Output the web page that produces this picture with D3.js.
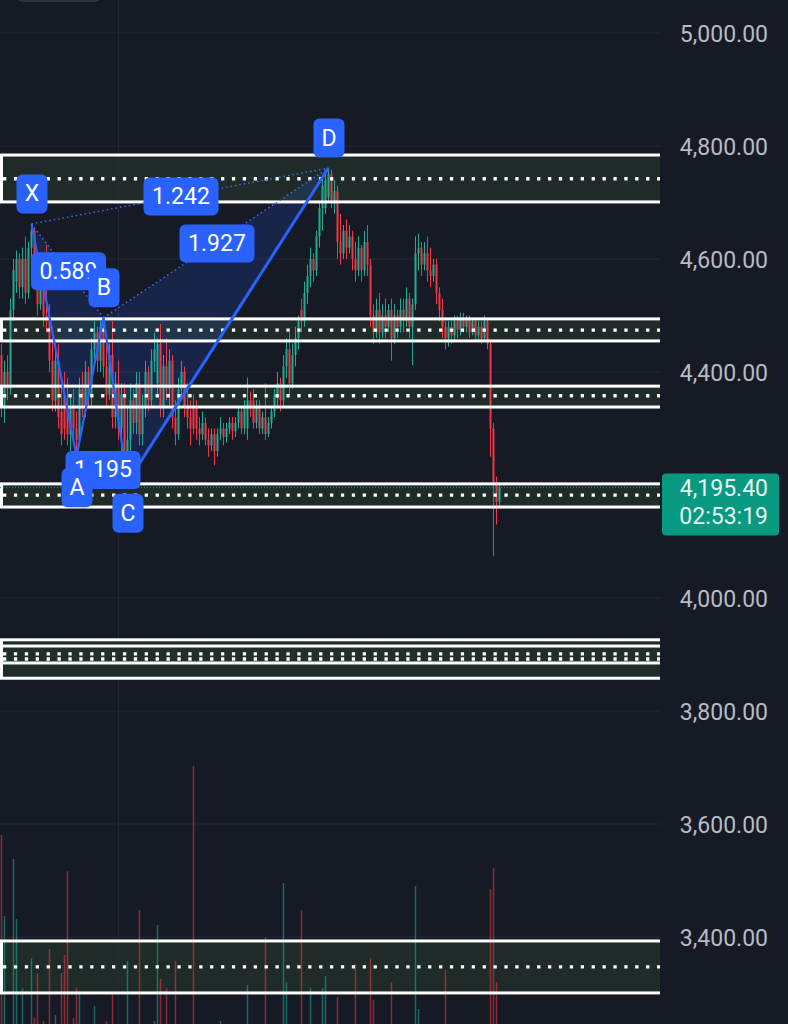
<!DOCTYPE html>
<html><head><meta charset="utf-8">
<script src="https://cdn.jsdelivr.net/npm/d3@7"></script>
<style>html,body{margin:0;padding:0;background:#161a25;overflow:hidden}svg{display:block}</style>
</head><body><svg id="c" width="788" height="1024"></svg>
<script>
// ---------- DATA ----------
const gridTicks = [5000, 4800, 4600, 4400, 4200, 4000, 3800, 3600, 3400];
const priceTicks = [5000, 4800, 4600, 4400, 4000, 3800, 3600, 3400];
const timeGridIndex = [39];
// [open, high, low, close]
const candles = [
[4430,4450,4320,4340],[4340,4420,4310,4400],[4400,4430,4350,4370],[4370,4530,4360,4510],[4510,4600,4490,4580],
[4560,4615,4540,4600],[4600,4610,4530,4550],[4550,4620,4530,4600],[4600,4640,4520,4540],[4540,4630,4530,4620],
[4620,4662,4600,4650],[4650,4655,4560,4580],[4580,4600,4500,4520],[4520,4600,4510,4580],[4580,4590,4480,4500],
[4500,4625,4470,4490],[4490,4520,4400,4420],[4420,4480,4330,4350],[4350,4440,4330,4420],[4420,4450,4300,4320],
[4330,4380,4270,4290],[4360,4400,4280,4300],[4340,4390,4270,4290],[4290,4360,4260,4340],[4340,4370,4280,4300],
[4300,4330,4250,4280],[4280,4390,4270,4370],[4370,4400,4320,4340],[4340,4420,4320,4400],[4400,4410,4340,4360],
[4360,4460,4340,4440],[4440,4490,4420,4470],[4470,4480,4400,4420],[4420,4490,4400,4480],[4480,4496,4390,4410],
[4410,4470,4340,4360],[4360,4450,4350,4430],[4430,4490,4300,4320],[4320,4400,4300,4380],[4380,4420,4280,4300],
[4300,4380,4260,4360],[4360,4380,4240,4260],[4260,4340,4205,4280],[4280,4380,4260,4350],[4350,4370,4290,4310],
[4310,4400,4290,4380],[4380,4400,4270,4290],[4290,4360,4270,4340],[4340,4420,4320,4400],[4400,4410,4330,4350],
[4350,4440,4340,4420],[4420,4470,4400,4440],[4380,4460,4360,4450],[4450,4485,4320,4340],[4340,4430,4320,4410],
[4410,4460,4350,4370],[4370,4440,4340,4420],[4420,4430,4300,4320],[4320,4350,4270,4290],[4290,4390,4280,4370],
[4370,4420,4350,4400],[4400,4410,4320,4340],[4340,4380,4300,4320],[4320,4350,4270,4300],[4340,4360,4290,4300],
[4340,4350,4280,4300],[4300,4320,4270,4290],[4290,4330,4280,4310],[4310,4320,4270,4280],[4280,4300,4250,4270],
[4270,4300,4260,4290],[4290,4300,4235,4260],[4260,4300,4250,4290],[4290,4320,4280,4300],[4300,4310,4270,4285],
[4285,4310,4275,4300],[4300,4320,4290,4310],[4310,4320,4280,4295],[4295,4320,4285,4310],[4310,4340,4300,4330],
[4330,4340,4290,4300],[4300,4350,4290,4340],[4300,4390,4280,4350],[4350,4365,4320,4335],[4350,4370,4300,4310],
[4310,4350,4300,4340],[4340,4350,4290,4300],[4300,4330,4290,4320],[4320,4380,4280,4290],[4290,4320,4285,4310],
[4310,4340,4300,4330],[4330,4370,4320,4360],[4360,4400,4340,4380],[4380,4390,4330,4350],[4350,4430,4340,4410],
[4410,4460,4390,4440],[4440,4470,4360,4380],[4380,4450,4370,4430],[4430,4480,4410,4460],[4460,4500,4440,4490],
[4510,4530,4470,4490],[4490,4560,4480,4540],[4540,4590,4520,4570],[4570,4620,4550,4600],[4600,4610,4560,4580],
[4580,4650,4570,4640],[4640,4700,4620,4690],[4690,4740,4650,4730],[4690,4755,4680,4740],[4710,4761,4700,4750],
[4750,4758,4690,4700],[4700,4740,4680,4720],[4720,4730,4600,4630],[4630,4680,4590,4610],[4610,4660,4600,4650],
[4650,4670,4600,4620],[4620,4660,4610,4640],[4640,4650,4580,4600],[4600,4630,4560,4580],[4580,4640,4570,4620],
[4620,4625,4560,4580],[4580,4650,4570,4630],[4630,4660,4570,4590],[4590,4600,4480,4500],[4500,4520,4450,4470],
[4470,4530,4460,4510],[4510,4540,4450,4470],[4470,4520,4460,4500],[4500,4530,4460,4480],[4480,4520,4470,4510],
[4510,4530,4420,4460],[4460,4520,4450,4500],[4500,4510,4460,4480],[4480,4530,4470,4510],[4510,4530,4470,4490],
[4490,4550,4480,4530],[4530,4540,4460,4480],[4480,4530,4412,4520],[4520,4640,4510,4610],[4610,4645,4580,4620],
[4620,4630,4570,4590],[4590,4630,4580,4610],[4610,4640,4560,4580],[4580,4620,4550,4570],[4570,4600,4560,4590],
[4590,4600,4520,4540],[4540,4550,4490,4510],[4510,4530,4460,4480],[4480,4490,4440,4460],[4460,4490,4445,4480],
[4480,4490,4450,4465],[4465,4500,4455,4490],[4490,4500,4460,4475],[4475,4505,4465,4495],[4495,4505,4470,4480],
[4480,4500,4470,4495],[4495,4500,4460,4470],[4470,4495,4465,4490],[4490,4495,4455,4465],[4465,4490,4455,4480],
[4480,4490,4450,4460],[4460,4500,4455,4490],[4490,4495,4440,4450],[4450,4455,4250,4300],[4300,4310,4074,4205],
[4205,4215,4130,4170],[4170,4200,4160,4195.4]
];
const volumes = [
75,48,10,9,67,47,12,24,11,8,34,14,29,10,13,9,37,12,15,9,29,35,63,11,14,24,22,10,12,9,
8,18,11,10,9,13,8,22,10,12,9,11,33,10,8,12,50,9,11,10,8,13,45,27,9,24,10,8,33,11,
9,12,10,8,98,11,9,10,12,8,10,9,11,13,8,10,12,9,11,8,10,9,25,8,10,11,9,12,41,10,
8,9,11,10,59,26,9,8,12,10,50,9,11,24,10,8,9,24,28,10,11,9,21,10,8,12,9,10,32,11,
9,10,8,34,20,9,11,10,8,12,26,9,10,8,11,9,10,12,58,17,9,8,11,10,9,12,8,10,30,9,
11,10,8,12,9,10,11,8,9,10,12,9,10,57,64,26,8
];
const zoneTop    = [4784, 4494, 4375, 4202, 3926, 3915, 3393];
const zoneBottom = [4701, 4455, 4338, 4161, 3885, 3858, 3301];
const zoneMid    = [4742, 4474, 4358, 4182, 3901, 3892, 3347];
const pivotNames = ["X", "A", "B", "C", "D"];
const pivotIndex = [10, 25, 34, 42, 109];
const pivotPrice = [4662, 4250, 4496, 4205, 4761];
const ratioText = ["1.242", "1.927", "0.589", "1.195"];
const ratioFrom = [0, 2, 0, 1];
const ratioTo   = [4, 4, 2, 3];
const lastPrice = 4195.40;
const countdown = "02:53:19";

// ---------- DRAW ----------
const W = 788, H = 1024, plotR = 660;
const FONT = "Roboto, 'Noto Sans', sans-serif";
const svg = d3.select("#c");
const y = d3.scaleLinear().domain([3400, 5000]).range([937, 33]);
const x = d3.scaleBand().domain(d3.range(candles.length)).range([0, candles.length * 3]);
const cx = i => x(i) + x.bandwidth() / 2;
const vy = d3.scaleLinear().domain([0, 100]).range([1060, 760]);
const UP = "#22ab94", DN = "#f23645";
const isUp = i => candles[i] && candles[i][3] >= candles[i][0];

svg.append("rect").attr("width", W).attr("height", H).attr("fill", "#161a25");
svg.append("defs").append("clipPath").attr("id", "plot")
  .append("rect").attr("x", 0).attr("y", 0).attr("width", plotR).attr("height", H);
const plot = svg.append("g").attr("clip-path", "url(#plot)");

// grid
plot.selectAll(".hg").data(gridTicks).join("line")
  .attr("x1", 0).attr("x2", plotR).attr("y1", d => y(d)).attr("y2", d => y(d))
  .attr("stroke", "#232733").attr("stroke-width", 1);
plot.selectAll(".vg").data(timeGridIndex).join("line")
  .attr("x1", d => cx(d)).attr("x2", d => cx(d)).attr("y1", 0).attr("y2", H)
  .attr("stroke", "#232733").attr("stroke-width", 1);

// top-left button outline
svg.append("rect").attr("x", 17).attr("y", -12).attr("width", 84).attr("height", 13)
  .attr("rx", 6).attr("fill", "none").attr("stroke", "#3a3e4a").attr("stroke-width", 1.5);

// zone fills
const zi = d3.range(zoneTop.length);
plot.selectAll(".zf").data(zi).join("rect")
  .attr("x", 1.5).attr("width", 720)
  .attr("y", i => y(zoneTop[i])).attr("height", i => y(zoneBottom[i]) - y(zoneTop[i]))
  .attr("fill", "#223229").attr("fill-opacity", 0.75);

// volume
plot.selectAll(".vol").data(volumes.slice(0, candles.length)).join("rect")
  .attr("x", (v, i) => cx(i) - 0.75).attr("width", 1.5)
  .attr("y", v => vy(v)).attr("height", v => vy(0) - vy(v))
  .attr("fill", (v, i) => isUp(i) ? UP : DN)
  .attr("fill-opacity", 0.55);

// pattern fills
const P = pivotNames.map((n, k) => [cx(pivotIndex[k]), y(pivotPrice[k])]);
plot.append("path").attr("d", d3.line()([P[0], P[1], P[2]]) + "Z")
  .attr("fill", "#2962ff").attr("fill-opacity", 0.16);
plot.append("path").attr("d", d3.line()([P[2], P[3], P[4]]) + "Z")
  .attr("fill", "#2962ff").attr("fill-opacity", 0.16);

// candles
const cg = plot.append("g");
cg.selectAll("line").data(candles).join("line")
  .attr("x1", (d, i) => cx(i)).attr("x2", (d, i) => cx(i))
  .attr("y1", d => y(d[1])).attr("y2", d => y(d[2]))
  .attr("stroke", d => d[3] >= d[0] ? UP : DN).attr("stroke-width", 1);
cg.selectAll("rect").data(candles).join("rect")
  .attr("x", (d, i) => cx(i) - 1).attr("width", 2)
  .attr("y", d => y(Math.max(d[0], d[3])))
  .attr("height", d => Math.max(1, Math.abs(y(d[0]) - y(d[3]))))
  .attr("fill", d => d[3] >= d[0] ? UP : DN);

// zone lines
plot.selectAll(".zt").data(zi).join("rect")
  .attr("x", 1.5).attr("width", 720)
  .attr("y", i => y(zoneTop[i])).attr("height", i => y(zoneBottom[i]) - y(zoneTop[i]))
  .attr("fill", "none").attr("stroke", "#ffffff").attr("stroke-width", 3);
plot.selectAll(".zm").data(zi).join("line")
  .attr("x1", 3).attr("x2", plotR)
  .attr("y1", i => y(zoneMid[i])).attr("y2", i => y(zoneMid[i]))
  .attr("stroke", "#ffffff").attr("stroke-width", 3.3).attr("stroke-dasharray", "3.3,7.6");

// last price line
plot.append("line").attr("x1", 0).attr("x2", plotR)
  .attr("y1", y(lastPrice)).attr("y2", y(lastPrice))
  .attr("stroke", "#089981").attr("stroke-width", 1).attr("stroke-dasharray", "1,2");

// pattern lines
const blue = "#2962ff";
plot.append("path").attr("d", d3.line()([P[0], P[1], P[2], P[3]]))
  .attr("fill", "none").attr("stroke", blue).attr("stroke-width", 2.2);
plot.append("path").attr("d", d3.line()([P[3], P[4]]))
  .attr("fill", "none").attr("stroke", blue).attr("stroke-width", 3);
ratioText.forEach((t, k) => {
  const a = P[ratioFrom[k]], b = P[ratioTo[k]];
  plot.append("line").attr("x1", a[0]).attr("y1", a[1]).attr("x2", b[0]).attr("y2", b[1])
    .attr("stroke", "#3f6ff0").attr("stroke-width", 1.5).attr("stroke-dasharray", "1.5,3");
});

// ratio labels
const lab = svg.append("g").attr("font-family", FONT).attr("font-size", 23).attr("fill", "#fff");
ratioText.forEach((t, k) => {
  const a = P[ratioFrom[k]], b = P[ratioTo[k]];
  const mx = (a[0] + b[0]) / 2 + 1, my = (a[1] + b[1]) / 2 + 0.5;
  lab.append("rect").attr("x", mx - 37.5).attr("y", my - 19).attr("width", 75).attr("height", 38)
    .attr("rx", 6).attr("fill", blue);
  lab.append("text").attr("x", mx).attr("y", my).attr("text-anchor", "middle")
    .attr("dominant-baseline", "central").attr("fill", "#fff").text(t);
});
// pivot labels
pivotNames.forEach((n, k) => {
  const below = (n === "A" || n === "C");
  const lx = P[k][0] + 0.5, ly = P[k][1] + (below ? 31 : -30);
  lab.append("rect").attr("x", lx - 15.5).attr("y", ly - 19.5).attr("width", 31).attr("height", 39)
    .attr("rx", 6).attr("fill", blue);
  lab.append("text").attr("x", lx).attr("y", ly).attr("text-anchor", "middle")
    .attr("dominant-baseline", "central").attr("fill", "#fff").text(n);
});

// price axis
const axis = d3.axisRight(y).tickValues(priceTicks).tickFormat(d3.format(",.2f")).tickSize(0).tickPadding(0);
const ag = svg.append("g").attr("transform", "translate(768,0)").call(axis);
ag.select(".domain").remove();
ag.selectAll("text").attr("text-anchor", "end").attr("fill", "#b8bbc4")
  .attr("font-family", FONT).attr("font-size", 23).attr("dy", "0.35em");

// last price label
const ly = y(lastPrice);
svg.append("rect").attr("x", 662).attr("y", ly - 14).attr("width", 117).attr("height", 62)
  .attr("rx", 4).attr("fill", "#089981");
svg.append("text").attr("x", 768).attr("y", ly + 1).attr("text-anchor", "end")
  .attr("dominant-baseline", "central").attr("font-family", FONT).attr("font-size", 23)
  .attr("fill", "#e6f5f1").text(d3.format(",.2f")(lastPrice));
svg.append("text").attr("x", 768).attr("y", ly + 29).attr("text-anchor", "end")
  .attr("dominant-baseline", "central").attr("font-family", FONT).attr("font-size", 23)
  .attr("fill", "#e6f5f1").text(countdown);
</script></body></html>
